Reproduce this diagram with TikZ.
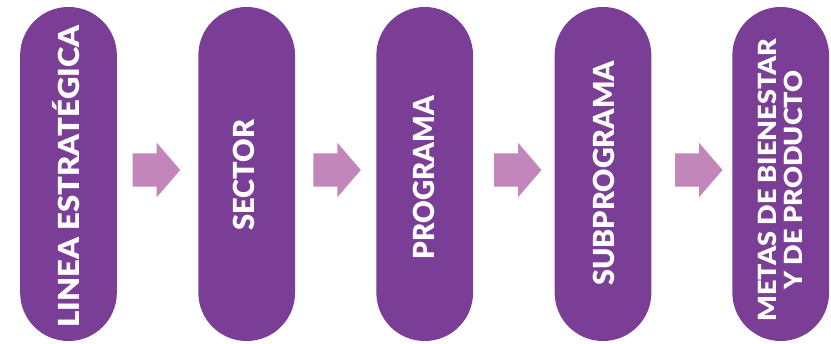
\documentclass[tikz,border=0pt]{standalone}
\usepackage{fontspec}
\setmainfont{Lato}[BoldFont={Lato Black}]
\definecolor{pillc}{HTML}{7A3E96}
\definecolor{arrc}{HTML}{C286BB}
\begin{document}
\begin{tikzpicture}[x=1pt,y=-1pt,
  pill/.style={fill=pillc, rounded corners=48.3pt, minimum width=96.7pt, minimum height=334pt, inner sep=0pt},
  pilltext/.style={rotate=90, inner sep=0pt, text=white, font=\bfseries\fontsize{29}{29}\selectfont, align=center},
  blockarrow/.style={fill=arrc}]
\useasboundingbox (0,0) rectangle (831,344);
\node[pill] (p1) at (68.5,174) {};
\node[pill] (p2) at (246.7,174) {};
\node[pill] (p3) at (424.7,174) {};
\node[pill] (p4) at (603,174) {};
\node[pill] (p5) at (780.7,174) {};
\node[pilltext] (t1) at (66.2,176.5) {\scalebox{1.07}[1]{LINEA ESTRATÉGICA}};
\node[pilltext] (t2) at (244.3,175) {SECTOR};
\node[pilltext] (t3) at (423.5,177.5) {\scalebox{0.96}[1]{PROGRAMA}};
\node[pilltext] (t4) at (603.5,173.3) {\scalebox{0.99}[1]{SUBPROGRAMA}};
\node[pilltext, font=\bfseries\fontsize{25}{25.6}\selectfont] (t5) at (783.9,180) {\scalebox{1.08}[1]{\begin{tabular}{@{}c@{}}METAS DE BIENESTAR\\Y DE PRODUCTO\end{tabular}}};
\foreach \x in {132.7,313.3,494,675}{
  \fill[blockarrow] (\x,153.3) -- ++(24,0) -- ++(0,-10.6) -- ++(23.5,27.3) -- ++(-23.5,27.3) -- ++(0,-10.6) -- ++(-24,0) -- cycle;
}
\end{tikzpicture}
\end{document}
